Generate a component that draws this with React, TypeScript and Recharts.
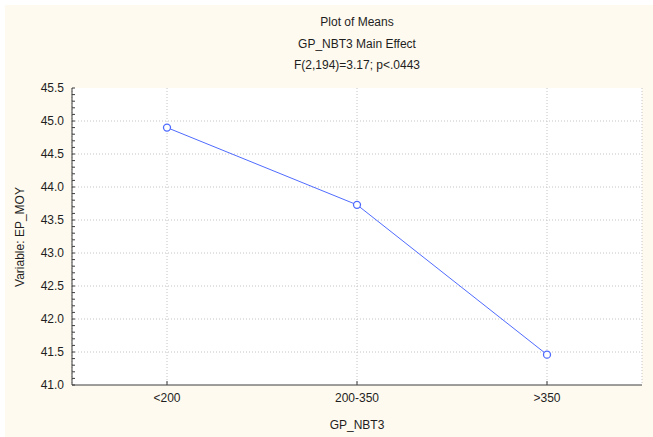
import { LineChart, Line, XAxis, YAxis, CartesianGrid } from 'recharts';

// GP_NBT3 groups and the mean of EP_MOY in each
const groups = ['<200', '200-350', '>350'];
const means = [44.9, 43.73, 41.46];

const yDomain = [41, 45.5];
const yTicks = [41.0, 41.5, 42.0, 42.5, 43.0, 43.5, 44.0, 44.5, 45.0, 45.5];
const minorTicks = Array.from({ length: 46 }, (_, i) => +(41 + i * 0.1).toFixed(1));

const titleLines = ['Plot of Means', 'GP_NBT3 Main Effect', 'F(2,194)=3.17; p<.0443'];

const data = groups.map((g, i) => ({ group: g, mean: means[i] }));

const font = '"Liberation Sans", Arial, sans-serif';
const textColor = '#1e1e1e';
const axisColor = '#3c3c3c';

const App = () => {
  const isMajor = (v: number) => yTicks.some((t) => Math.abs(t - v) < 1e-6);

  // grid rows only on the labelled ticks, not every minor one
  const gridRows = ({ offset }: any) =>
    yTicks
      .slice(1, -1)
      .map(
        (t) =>
          offset.top + (offset.height * (yDomain[1] - t)) / (yDomain[1] - yDomain[0])
      );

  return (
    <div
      style={{
        position: 'absolute',
        left: 0,
        top: 0,
        width: 653,
        height: 437,
        background: '#ffffff',
        fontFamily: font,
        color: textColor,
      }}
    >
      <div
        style={{
          position: 'absolute',
          left: 5,
          top: 5,
          width: 648,
          height: 432,
          background: '#fefaef',
        }}
      />
      {titleLines.map((t, i) => (
        <div
          key={t}
          style={{
            position: 'absolute',
            left: 157,
            width: 400,
            top: 14 + i * 21.5,
            textAlign: 'center',
            fontSize: 12,
            lineHeight: '16px',
          }}
        >
          {t}
        </div>
      ))}
      <div
        style={{
          position: 'absolute',
          left: 20 - 80,
          top: 237 - 8,
          width: 160,
          textAlign: 'center',
          fontSize: 12,
          lineHeight: '16px',
          transform: 'rotate(-90deg)',
        }}
      >
        Variable: EP_MOY
      </div>
      <div
        style={{
          position: 'absolute',
          left: 257,
          width: 200,
          top: 417,
          textAlign: 'center',
          fontSize: 12,
          lineHeight: '16px',
        }}
      >
        GP_NBT3
      </div>
      <div style={{ position: 'absolute', left: 0, top: 0 }}>
        <LineChart
          width={653}
          height={437}
          data={data}
          margin={{ top: 88, right: 11, bottom: 22, left: 0 }}
        >
          <CartesianGrid
            fill="#ffffff"
            stroke="#c4c4c4"
            strokeDasharray="1 2"
            horizontalCoordinatesGenerator={gridRows}
          />
          <XAxis
            dataKey="group"
            padding={{ left: 95, right: 95 }}
            height={30}
            tickSize={-4}
            tickMargin={12}
            tick={{ fill: textColor, fontSize: 12, fontFamily: font }}
            stroke={axisColor}
            interval={0}
          />
          <XAxis
            xAxisId="top"
            dataKey="group"
            orientation="top"
            padding={{ left: 95, right: 95 }}
            height={0}
            tickSize={-4}
            tick={false}
            stroke={axisColor}
            interval={0}
          />
          <YAxis
            type="number"
            domain={yDomain}
            ticks={minorTicks}
            interval={0}
            width={72}
            tickSize={-3}
            tickMargin={11}
            tickFormatter={(v: number) => (isMajor(v) ? v.toFixed(1) : '')}
            tick={{ fill: textColor, fontSize: 12, fontFamily: font }}
            stroke={axisColor}
            allowDataOverflow
          />
          <YAxis
            yAxisId="right"
            orientation="right"
            type="number"
            domain={yDomain}
            ticks={minorTicks}
            interval={0}
            width={0}
            tickSize={-3}
            tick={false}
            stroke={axisColor}
            allowDataOverflow
          />
          <Line
            dataKey="mean"
            stroke="#4f6bff"
            strokeWidth={1}
            dot={{ r: 3.5, fill: '#ffffff', stroke: '#4f6bff', strokeWidth: 1.3 }}
            activeDot={false}
            isAnimationActive={false}
          />
        </LineChart>
      </div>
    </div>
  );
};

export default App;
